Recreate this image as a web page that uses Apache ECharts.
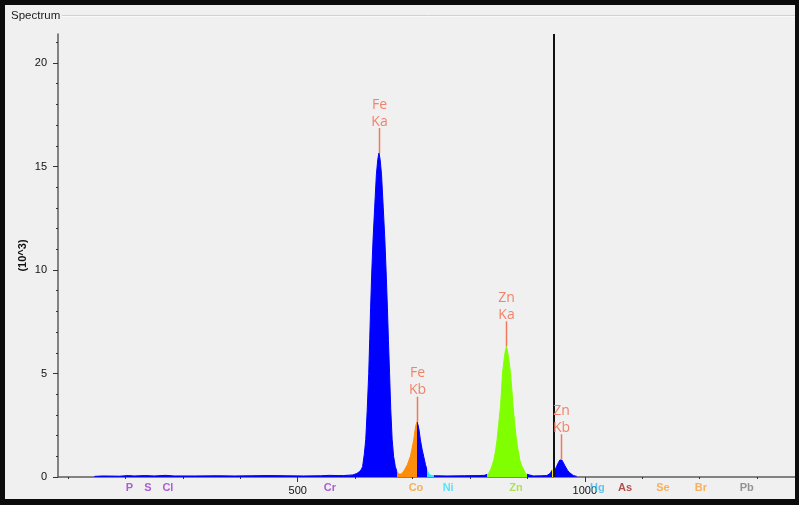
<!DOCTYPE html>
<html>
<head>
<meta charset="utf-8">
<script src="https://cdn.jsdelivr.net/npm/echarts@6/dist/echarts.min.js"></script>
<style>
  html, body { margin: 0; padding: 0; background: #0c0c0c; }
  #frame { position: absolute; left: 0; top: 0; width: 799px; height: 505px; background: #0c0c0c; }
  #chart { position: absolute; left: 5px; top: 5px; width: 790px; height: 494px; background: #f0f0f0; }
</style>
</head>
<body>
<div id="frame"><div id="chart"></div></div>
<script>
// ---------- data (channel, counts in 10^3) ----------
const channels = [
  146, 160, 190, 205, 215, 235, 250, 270, 285, 320, 360, 390, 420, 450, 480, 510, 540, 555, 570, 580, 590,
  596, 603, 608, 611, 613, 616, 618.5, 621, 623.7, 625.5, 627, 629, 631.2, 634, 637, 639.5, 641.5,
  643.5, 646, 649, 651.8, 654, 656.2, 658, 660, 662, 664.5, 667, 670, 673, 677,
  681, 686, 691, 696, 699, 702, 704.4, 706, 707.8, 709.5, 711.3, 713.7, 716.5, 719.5, 722.5, 725.3, 728, 732,
  740, 760, 790, 815, 825,
  828, 832, 835.7, 838.5, 841.5, 844.5, 847.2, 850, 853.1, 855, 856.6, 858.5, 860, 862, 863.5,
  865, 867, 869, 870.6, 873, 875.1, 878, 881, 884, 886.8, 890, 893.7, 897, 900,
  910, 925, 934,
  936, 940, 943, 946, 949, 951, 954, 956.5, 958.2, 960, 962.5, 965, 967, 970, 973, 976, 980, 983, 986
];
const counts = [
  0.03, 0.05, 0.04, 0.07, 0.05, 0.07, 0.05, 0.08, 0.05, 0.05, 0.06, 0.05, 0.06, 0.07, 0.06, 0.05, 0.06, 0.08, 0.07, 0.07, 0.09,
  0.1, 0.17, 0.27, 0.38, 0.5, 1.1, 1.8, 3.2, 5.0, 6.7, 8.2, 9.9, 11.45, 13.0, 14.6, 15.35, 15.65,
  15.35, 14.6, 13.0, 11.45, 9.9, 8.2, 6.6, 5.0, 3.3, 1.8, 1.0, 0.5, 0.25, 0.14,
  0.15, 0.34, 0.6, 0.98, 1.35, 1.79, 2.27, 2.52, 2.67, 2.52, 2.27, 1.79, 1.35, 0.98, 0.6, 0.34, 0.17, 0.08,
  0.06, 0.05, 0.06, 0.07, 0.08,
  0.06, 0.15, 0.34, 0.55, 0.82, 1.25, 1.79, 2.55, 3.4, 4.2, 5.0, 5.45, 5.81, 6.15, 6.31,
  6.15, 5.81, 5.4, 5.0, 4.2, 3.4, 2.55, 1.79, 1.25, 0.82, 0.55, 0.34, 0.15, 0.06,
  0.05, 0.06, 0.07,
  0.08, 0.18, 0.33, 0.25, 0.4, 0.52, 0.7, 0.82, 0.86, 0.82, 0.7, 0.56, 0.48, 0.32, 0.22, 0.14, 0.07, 0.05, 0.03
];

// peak annotations
const peakChannels = [641.5, 707.8, 863.5, 958.2];
const peakCounts = [15.65, 2.67, 6.31, 0.86];
const peakNames = ['Fe\nKa', 'Fe\nKb', 'Zn\nKa', 'Zn\nKb'];

// element markers under the axis
const elementNames = ['P', 'S', 'Cl', 'Cr', 'Co', 'Ni', 'Zn', 'Hg', 'As', 'Se', 'Br', 'Pb'];
const elementChannels = [207, 239, 274, 556, 706, 762, 880, 1022, 1070, 1136, 1202, 1282];

// ROIs (channel ranges)
const roiNames = ['Co', 'Ni', 'Zn', 'cursor'];
const roiStart = [672.5, 726, 830, 943.5];
const roiEnd = [707.8, 738, 899, 946];

const cursorChannel = 946;

// axes
const xMin = 82.6, xMax = 1366;
const xTickValues = [100, 200, 300, 400, 500, 600, 700, 800, 900, 1000, 1100, 1200, 1300];
const xLabelValues = [500, 1000];
const yMin = 0, yMax = 21.4;
const yMinorTicks = [0, 1, 2, 3, 4, 5, 6, 7, 8, 9, 10, 11, 12, 13, 14, 15, 16, 17, 18, 19, 20, 21];
const yLabelValues = [0, 5, 10, 15, 20];

// ---------- styles ----------
const elementColors = {
  P: '#9a3acc', S: '#9a3acc', Cl: '#9a3acc', Cr: '#9a3acc',
  Co: '#f5a033', Ni: '#33ddff', Zn: '#9ade33', Hg: '#3cb8ee',
  As: '#a3282a', Se: '#f7a03a', Br: '#f7a03a', Pb: '#7a7a7a'
};
const roiColors = { Co: '#ff8c0a', Ni: '#30e4ff', Zn: '#80ff00', cursor: '#ffe600' };
const peakColor = '#f0836a';
const axisColor = '#5e5e5e';
const FONT = '"Liberation Sans", Arial, sans-serif';

const chart = echarts.init(document.getElementById('chart'), null, { renderer: 'canvas' });

const spectrum = channels.map((c, i) => [c, counts[i]]);
const elements = elementChannels.map((c, i) => ({
  value: [c, 0],
  name: elementNames[i],
  label: { color: elementColors[elementNames[i]] }
}));
const peaks = peakChannels.map((c, i) => [c, peakCounts[i]]);

const option = {
  backgroundColor: 'transparent',
  animation: false,
  textStyle: { fontFamily: FONT },
  graphic: [
    { type: 'text', left: 6, top: 5, style: { text: 'Spectrum', font: '11.5px ' + FONT, fill: '#1a1a1a' } },
    { type: 'line', shape: { x1: 57, y1: 10.5, x2: 790, y2: 10.5 }, style: { stroke: '#d0d0da', lineWidth: 1 } },
    { type: 'line', shape: { x1: 57, y1: 11.5, x2: 790, y2: 11.5 }, style: { stroke: '#fafafa', lineWidth: 1 } }
  ],
  grid: { left: 53, top: 29, right: 0, bottom: 22, containLabel: false },
  xAxis: [
    {
      type: 'value', position: 'bottom', min: xMin, max: xMax,
      axisLine: { show: true, onZero: false, lineStyle: { color: axisColor, width: 1.5 } },
      axisTick: { show: true, customValues: xTickValues, length: 2, lineStyle: { color: '#333', width: 1 } },
      axisLabel: { show: false },
      splitLine: { show: false }
    },
    {
      type: 'value', position: 'bottom', min: xMin, max: xMax,
      axisLine: { show: false, onZero: false },
      axisTick: { show: true, customValues: xLabelValues, length: 5, lineStyle: { color: '#333', width: 1 } },
      axisLabel: {
        show: true, customValues: xLabelValues, margin: 8, fontSize: 11, color: '#111', fontFamily: FONT,
        formatter: v => String(v)
      },
      splitLine: { show: false }
    }
  ],
  yAxis: [
    {
      type: 'value', position: 'left', min: yMin, max: yMax,
      axisLine: { show: true, onZero: false, lineStyle: { color: axisColor, width: 1.5 } },
      axisTick: { show: true, customValues: yMinorTicks, length: 2, lineStyle: { color: '#333', width: 1 } },
      axisLabel: { show: false },
      splitLine: { show: false }
    },
    {
      type: 'value', position: 'left', min: yMin, max: yMax,
      name: '(10^3)', nameLocation: 'middle', nameRotate: 90, nameGap: 30, nameMoveOverlap: false,
      nameTextStyle: { fontWeight: 'bold', fontSize: 11, color: '#111', fontFamily: FONT },
      axisLine: { show: false, onZero: false },
      axisTick: { show: true, customValues: yLabelValues, length: 5, lineStyle: { color: '#333', width: 1 } },
      axisLabel: {
        show: true, customValues: yLabelValues, margin: 11, fontSize: 11, color: '#111', fontFamily: FONT,
        formatter: v => String(v)
      },
      splitLine: { show: false }
    }
  ],
  visualMap: {
    show: false, type: 'piecewise', seriesIndex: 0, dimension: 0,
    pieces: roiNames.map((n, i) => ({ gte: roiStart[i], lt: roiEnd[i], color: roiColors[n] })),
    outOfRange: { color: '#0000ff' }
  },
  series: [
    {
      type: 'line', xAxisIndex: 0, yAxisIndex: 0, data: spectrum,
      symbol: 'none', smooth: false, z: 2,
      lineStyle: { width: 1 },
      areaStyle: { opacity: 1 }
    },
    {
      type: 'scatter', xAxisIndex: 0, yAxisIndex: 0, data: elements,
      symbolSize: 0, clip: false, silent: true, z: 3,
      label: {
        show: true, position: 'bottom', distance: 5,
        formatter: p => p.name, fontSize: 11, fontWeight: 'bold', fontFamily: FONT
      },
      markLine: {
        silent: true, symbol: ['none', 'none'], animation: false,
        label: { show: false },
        lineStyle: { color: '#111', width: 2, type: 'solid' },
        data: [{ xAxis: cursorChannel }]
      }
    },
    {
      type: 'custom', xAxisIndex: 0, yAxisIndex: 0, data: peaks, clip: false, silent: true, z: 5,
      renderItem: function (params, api) {
        const p = api.coord([api.value(0), api.value(1)]);
        const x = Math.round(p[0]);
        return {
          type: 'group',
          children: [
            { type: 'rect', shape: { x: x - 0.25, y: p[1] - 25, width: 1.5, height: 25 }, style: { fill: '#f27858' } },
            {
              type: 'text', x: x + 0.5, y: p[1] - 23,
              style: {
                text: peakNames[params.dataIndex], fill: peakColor,
                font: '14px "Open Sans", sans-serif', align: 'center', verticalAlign: 'bottom', lineHeight: 17
              }
            }
          ]
        };
      }
    }
  ]
};
chart.setOption(option);
</script>
</body>
</html>
